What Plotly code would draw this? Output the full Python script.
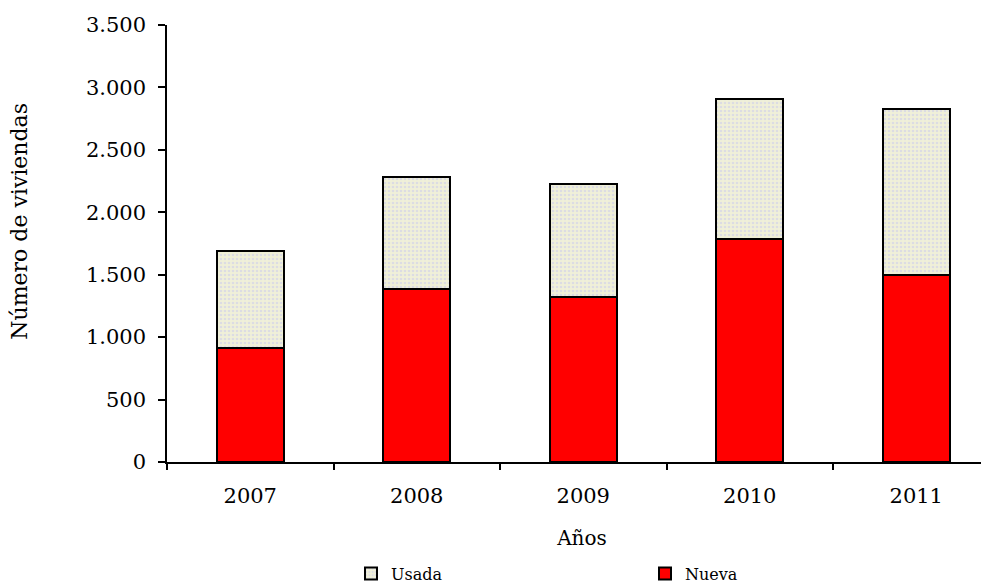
import plotly.graph_objects as go

years = ["2007", "2008", "2009", "2010", "2011"]
nueva = [915, 1385, 1325, 1785, 1500]
usada = [778, 900, 900, 1125, 1325]
y_ticks = [0, 500, 1000, 1500, 2000, 2500, 3000, 3500]

FONT = "DejaVu Serif"

fig = go.Figure()
fig.add_trace(go.Bar(
    x=years, y=nueva, name="Nueva", legend="legend2",
    marker=dict(color="#FF0000", line=dict(color="black", width=2)),
    width=0.40,
))
fig.add_trace(go.Bar(
    x=years, y=usada, name="Usada", legend="legend",
    marker=dict(color="#EEEEDC", line=dict(color="black", width=2),
                pattern=dict(shape=".", fgcolor="#C8C8EE", bgcolor="#F0F0D8",
                             size=4, solidity=0.35)),
    width=0.40,
))

leg_common = dict(orientation="h", xref="container", yref="container",
                  xanchor="left", yanchor="middle", y=0.038,
                  font=dict(family=FONT, size=16), itemwidth=30,
                  bgcolor="rgba(0,0,0,0)")

fig.update_layout(
    barmode="stack",
    width=989, height=588,
    margin=dict(l=159, r=0, t=17, b=134, autoexpand=False),
    paper_bgcolor="white", plot_bgcolor="white",
    separators=",.",
    font=dict(family=FONT, size=20, color="black"),
    showlegend=True,
    legend=dict(x=343 / 989, **leg_common),
    legend2=dict(x=637 / 989, **leg_common),
    xaxis=dict(
        range=[-0.5, 4.485],
        showline=True, linecolor="black", linewidth=1.5,
        ticks="outside", ticklen=6, tickwidth=1.5, tickcolor="black",
        tickson="boundaries",
        ticklabelstandoff=14,
        tickfont=dict(family=FONT, size=21),
        title=dict(text="Años", font=dict(family=FONT, size=20), standoff=24),
        showgrid=False, zeroline=False,
    ),
    yaxis=dict(
        range=[0, 3500],
        tickvals=y_ticks, tickformat=",d",
        showline=True, linecolor="black", linewidth=1.5,
        ticks="outside", ticklen=7, tickwidth=1.5, tickcolor="black",
        ticklabelstandoff=8,
        tickfont=dict(family=FONT, size=21),
        showgrid=False, zeroline=False,
    ),
    annotations=[dict(
        text="Número de viviendas", textangle=-90,
        xref="paper", yref="paper", x=-0.177, y=0.55,
        xanchor="center", yanchor="middle", showarrow=False,
        font=dict(family=FONT, size=22, color="black"),
    )],
)

fig.write_html("out.html")
